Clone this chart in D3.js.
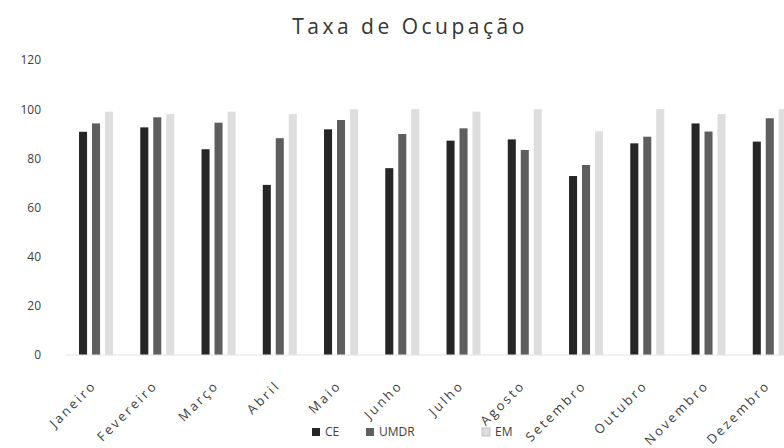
<!DOCTYPE html>
<html>
<head>
<meta charset="utf-8">
<script src="https://cdn.jsdelivr.net/npm/d3@7"></script>
<style>
  html, body { margin: 0; padding: 0; background: #fff; }
  svg { display: block; }
  text { font-family: "Open Sans", "Liberation Sans", sans-serif; fill: #404040; }
</style>
</head>
<body>
<svg id="chart" width="784" height="448"></svg>
<script>
// Monthly occupancy rate (%) for three series
const months = ["Janeiro", "Fevereiro", "Março", "Abril", "Maio", "Junho",
                "Julho", "Agosto", "Setembro", "Outubro", "Novembro", "Dezembro"];
const seriesNames = ["CE", "UMDR", "EM"];
const serieCE   = [90.8, 92.6, 83.7, 69.2, 91.8, 76.0, 87.2, 87.7, 72.8, 86.1, 94.2, 86.8];
const serieUMDR = [94.2, 96.7, 94.5, 88.2, 95.6, 89.9, 92.2, 83.4, 77.3, 88.8, 90.9, 96.3];
const serieEM   = [99, 98, 99, 98, 100, 100, 99, 100, 91, 100, 98, 100];
const yTicks = [0, 20, 40, 60, 80, 100, 120];

const seriesValues = [serieCE, serieUMDR, serieEM];
const colors = ["#262626", "#5e5e5e", "#dedede"];

const svg = d3.select("#chart");

const groupWidth = 34;
const x = d3.scaleBand().domain(months).range([65.4, 800.4]).paddingInner(0).paddingOuter(0);
const y = d3.scaleLinear().domain([0, 120]).range([355, 60]);
const inner = d3.scaleBand().domain(seriesNames).range([0, groupWidth]).paddingInner(0.38);

// Title
svg.append("text")
  .attr("x", 410).attr("y", 34)
  .attr("text-anchor", "middle")
  .style("font-size", "21px")
  .style("letter-spacing", "3.5px")
  .style("fill", "#333")
  .text("Taxa de Ocupação");

// Y axis labels
const yAxis = d3.axisLeft(y).tickValues(yTicks).tickSize(0).tickPadding(0);
const gy = svg.append("g").attr("transform", "translate(41,0)").call(yAxis);
gy.select(".domain").remove();
gy.selectAll("text").style("font-size", "12px").style("fill", "#404040")
  .style("font-family", "'Open Sans', 'Liberation Sans', sans-serif");

// Bars
const groups = svg.append("g").selectAll("g")
  .data(months)
  .join("g")
  .attr("transform", d => `translate(${x(d) + (x.bandwidth() - groupWidth) / 2},0)`);

groups.selectAll("rect")
  .data((m, i) => seriesNames.map((s, k) => ({ s, k, v: seriesValues[k][i] })))
  .join("rect")
  .attr("x", d => inner(d.s))
  .attr("y", d => y(d.v))
  .attr("width", inner.bandwidth())
  .attr("height", d => y(0) - y(d.v))
  .attr("fill", d => colors[d.k]);

// Baseline
svg.append("line")
  .attr("x1", 66).attr("x2", 784)
  .attr("y1", y(0)).attr("y2", y(0))
  .attr("stroke", "#e3e3e3").attr("stroke-width", 1);

// X axis labels, rotated
const xAxis = d3.axisBottom(x).tickSize(0).tickPadding(0);
const gx = svg.append("g").attr("transform", `translate(0,${y(0)})`).call(xAxis);
gx.select(".domain").remove();
gx.selectAll("text")
  .style("font-size", "13px").style("fill", "#404040")
  .style("letter-spacing", "2.5px")
  .style("font-family", "'Open Sans', 'Liberation Sans', sans-serif")
  .attr("text-anchor", "end")
  .attr("dy", "0.35em")
  .attr("transform", "translate(-2,28) rotate(-45)");

// Legend
const legend = svg.append("g").attr("transform", "translate(312,428)");
const legendX = [0, 54, 170];
seriesNames.forEach((s, k) => {
  const g = legend.append("g").attr("transform", `translate(${legendX[k]},0)`);
  g.append("rect").attr("width", 8).attr("height", 8).attr("fill", colors[k])
    .attr("stroke", k === 2 ? "#bfbfbf" : "none");
  g.append("text").attr("x", 13).attr("y", 8)
    .style("font-size", "12px").text(s);
});
</script>
</body>
</html>
